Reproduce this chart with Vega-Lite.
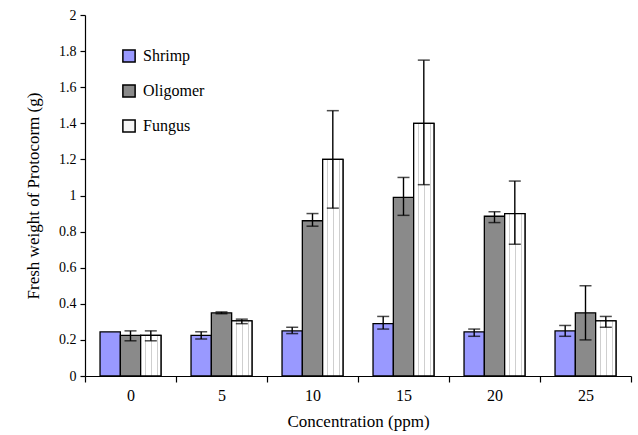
{
  "$schema": "https://vega.github.io/schema/vega-lite/v6.json",
  "width": 546,
  "height": 361,
  "autosize": "none",
  "padding": {"left": 85, "top": 15, "right": 7, "bottom": 59},
  "background": "white",
  "config": {
    "view": {"stroke": null},
    "font": "Liberation Serif",
    "style": {"guide-label": {"font": "Liberation Serif"}, "guide-title": {"font": "Liberation Serif"}},
    "axis": {"labelFont": "Liberation Serif", "titleFont": "Liberation Serif", "labelColor": "black", "titleColor": "black", "domainColor": "black", "tickColor": "black", "titleFontWeight": "normal"},
    "legend": {"labelFont": "Liberation Serif", "labelColor": "black", "labelFontSize": 16}
  },
  "data": {
    "values": [
      {"conc": "0", "Treatment": "Shrimp", "w": 0.245, "lo": null, "hi": null},
      {"conc": "0", "Treatment": "Oligomer", "w": 0.225, "lo": 0.195, "hi": 0.25},
      {"conc": "0", "Treatment": "Fungus", "w": 0.225, "lo": 0.195, "hi": 0.25},
      {"conc": "5", "Treatment": "Shrimp", "w": 0.225, "lo": 0.205, "hi": 0.245},
      {"conc": "5", "Treatment": "Oligomer", "w": 0.35, "lo": 0.345, "hi": 0.355},
      {"conc": "5", "Treatment": "Fungus", "w": 0.305, "lo": 0.29, "hi": 0.315},
      {"conc": "10", "Treatment": "Shrimp", "w": 0.25, "lo": 0.235, "hi": 0.27},
      {"conc": "10", "Treatment": "Oligomer", "w": 0.86, "lo": 0.83, "hi": 0.9},
      {"conc": "10", "Treatment": "Fungus", "w": 1.2, "lo": 0.93, "hi": 1.47},
      {"conc": "15", "Treatment": "Shrimp", "w": 0.29, "lo": 0.26, "hi": 0.33},
      {"conc": "15", "Treatment": "Oligomer", "w": 0.99, "lo": 0.89, "hi": 1.1},
      {"conc": "15", "Treatment": "Fungus", "w": 1.4, "lo": 1.06, "hi": 1.75},
      {"conc": "20", "Treatment": "Shrimp", "w": 0.245, "lo": 0.22, "hi": 0.26},
      {"conc": "20", "Treatment": "Oligomer", "w": 0.885, "lo": 0.85, "hi": 0.91},
      {"conc": "20", "Treatment": "Fungus", "w": 0.9, "lo": 0.73, "hi": 1.08},
      {"conc": "25", "Treatment": "Shrimp", "w": 0.25, "lo": 0.22, "hi": 0.28},
      {"conc": "25", "Treatment": "Oligomer", "w": 0.35, "lo": 0.2, "hi": 0.5},
      {"conc": "25", "Treatment": "Fungus", "w": 0.305, "lo": 0.27, "hi": 0.33}
    ]
  },
  "encoding": {
    "x": {"field": "conc", "type": "nominal", "sort": ["0", "5", "10", "15", "20", "25"],
      "scale": {"paddingInner": 0, "paddingOuter": 0},
      "axis": {"title": "Concentration  (ppm)", "titleFontSize": 17, "titlePadding": 10, "labelFontSize": 16, "labelPadding": 5, "labelAngle": 0, "tickBand": "extent", "tickSize": 6, "domainWidth": 1.2, "tickWidth": 1.2}},
    "xOffset": {"field": "Treatment", "type": "nominal", "sort": ["Shrimp", "Oligomer", "Fungus"], "scale": {"paddingInner": 0, "paddingOuter": 0.74}}
  },
  "layer": [
    {
      "mark": {"type": "bar", "stroke": "black", "strokeWidth": 1.3},
      "encoding": {
        "y": {"field": "w", "type": "quantitative",
          "scale": {"domain": [0, 2], "nice": false},
          "axis": {"title": "Fresh weight of Protocorm (g)", "titleFontSize": 17, "titlePadding": 16, "values": [0, 0.2, 0.4, 0.6, 0.8, 1, 1.2, 1.4, 1.6, 1.8, 2], "format": "~f", "labelFontSize": 14, "tickSize": 5, "labelPadding": 4, "grid": false, "domainWidth": 1.2, "tickWidth": 1.2}},
        "fill": {"field": "Treatment", "type": "nominal", "sort": ["Shrimp", "Oligomer", "Fungus"],
          "scale": {"domain": ["Shrimp", "Oligomer", "Fungus"], "range": ["#9999ff", "#8a8a8a", "#f6f6f6"]},
          "legend": {"title": null, "orient": "none", "legendX": 36, "legendY": 33, "symbolType": "square", "symbolSize": 150, "symbolStrokeColor": "black", "symbolStrokeWidth": 1.5, "labelFontSize": 16, "labelFont": "Liberation Serif", "labelColor": "black", "rowPadding": 15, "labelOffset": 6}}
      }
    },
    {
      "transform": [{"filter": "datum.Treatment === 'Fungus'"}],
      "mark": {"type": "bar", "stroke": "black", "strokeWidth": 1.3},
      "encoding": {
        "y": {"field": "w", "type": "quantitative",
          "axis": {"title": "Fresh weight of Protocorm (g)", "titleFontSize": 17, "titlePadding": 16, "values": [0, 0.2, 0.4, 0.6, 0.8, 1, 1.2, 1.4, 1.6, 1.8, 2], "format": "~f", "labelFontSize": 14, "tickSize": 5, "labelPadding": 4, "grid": false, "domainWidth": 1.2, "tickWidth": 1.2}},
        "fill": {"value": {"gradient": "linear", "x1": 0, "y1": 0, "x2": 1, "y2": 0, "stops": [
          {"offset": 0, "color": "#ffffff"}, {"offset": 0.22, "color": "#ffffff"},
          {"offset": 0.22, "color": "#cfcfcf"}, {"offset": 0.27, "color": "#cfcfcf"},
          {"offset": 0.27, "color": "#ffffff"}, {"offset": 0.53, "color": "#ffffff"},
          {"offset": 0.53, "color": "#cfcfcf"}, {"offset": 0.58, "color": "#cfcfcf"},
          {"offset": 0.58, "color": "#ffffff"}, {"offset": 0.81, "color": "#ffffff"},
          {"offset": 0.81, "color": "#cfcfcf"}, {"offset": 0.86, "color": "#cfcfcf"},
          {"offset": 0.86, "color": "#ffffff"}, {"offset": 1, "color": "#ffffff"}
        ]}}
      }
    },
    {
      "transform": [{"filter": "datum.lo !== null"}],
      "mark": {"type": "rule", "color": "black", "strokeWidth": 1.4},
      "encoding": {
        "y": {"field": "lo", "type": "quantitative",
          "axis": {"title": "Fresh weight of Protocorm (g)", "titleFontSize": 17, "titlePadding": 16, "values": [0, 0.2, 0.4, 0.6, 0.8, 1, 1.2, 1.4, 1.6, 1.8, 2], "format": "~f", "labelFontSize": 14, "tickSize": 5, "labelPadding": 4, "grid": false, "domainWidth": 1.2, "tickWidth": 1.2}},
        "y2": {"field": "hi"}
      }
    },
    {
      "transform": [{"filter": "datum.lo !== null"}],
      "mark": {"type": "tick", "color": "black", "thickness": 1.5, "size": 12},
      "encoding": {"y": {"field": "hi", "type": "quantitative",
          "axis": {"title": "Fresh weight of Protocorm (g)", "titleFontSize": 17, "titlePadding": 16, "values": [0, 0.2, 0.4, 0.6, 0.8, 1, 1.2, 1.4, 1.6, 1.8, 2], "format": "~f", "labelFontSize": 14, "tickSize": 5, "labelPadding": 4, "grid": false, "domainWidth": 1.2, "tickWidth": 1.2}}}
    },
    {
      "transform": [{"filter": "datum.lo !== null"}],
      "mark": {"type": "tick", "color": "black", "thickness": 1.5, "size": 12},
      "encoding": {"y": {"field": "lo", "type": "quantitative",
          "axis": {"title": "Fresh weight of Protocorm (g)", "titleFontSize": 17, "titlePadding": 16, "values": [0, 0.2, 0.4, 0.6, 0.8, 1, 1.2, 1.4, 1.6, 1.8, 2], "format": "~f", "labelFontSize": 14, "tickSize": 5, "labelPadding": 4, "grid": false, "domainWidth": 1.2, "tickWidth": 1.2}}}
    }
  ]
}
